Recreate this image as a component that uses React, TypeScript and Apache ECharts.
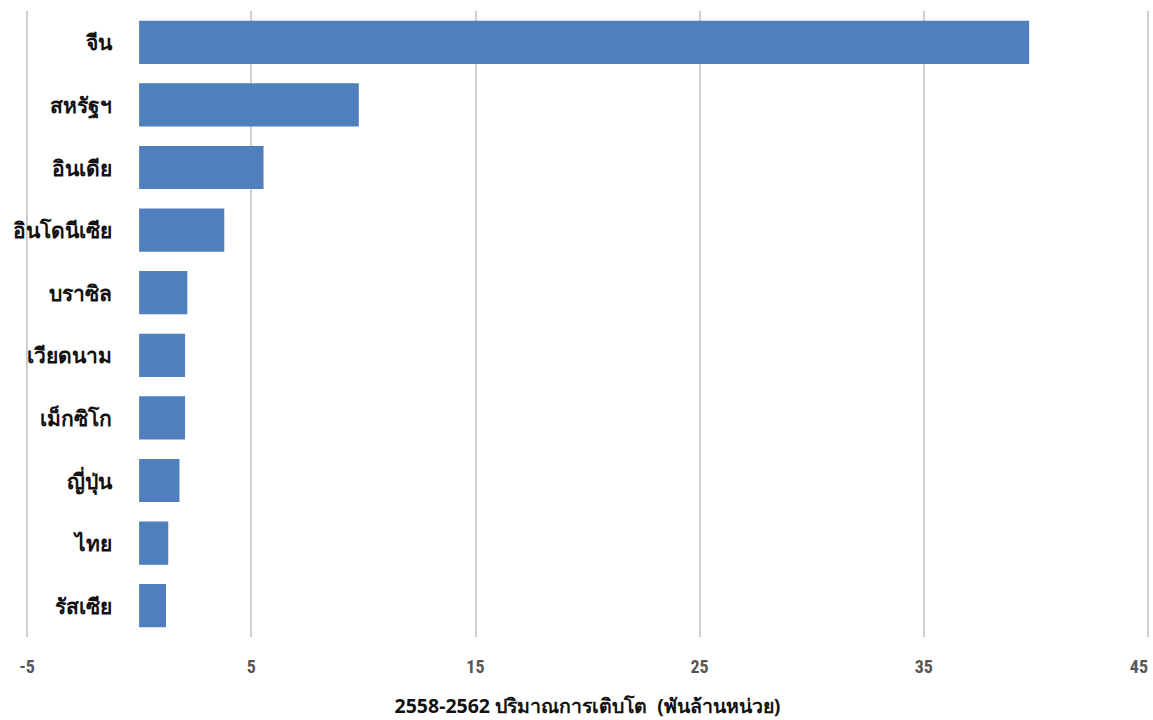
import React, { useEffect, useRef } from "react";
import * as echarts from "echarts";

const categories = ["จีน", "สหรัฐฯ", "อินเดีย", "อินโดนีเซีย", "บราซิล", "เวียดนาม", "เม็กซิโก", "ญี่ปุ่น", "ไทย", "รัสเซีย"];
const values = [39.7, 9.8, 5.55, 3.8, 2.15, 2.05, 2.05, 1.8, 1.3, 1.2];
const xMin = -5;
const xMax = 45;
const xInterval = 10;
const xAxisName = "2558-2562 ปริมาณการเติบโต  (พันล้านหน่วย)";

const GRID_LEFT = 27;
const GRID_RIGHT = 5;
const CHART_W = 1153;

export default function App() {
  const ref = useRef<HTMLDivElement>(null);
  useEffect(() => {
    if (!ref.current) return;
    const chart = echarts.init(ref.current, undefined, { renderer: "svg" });
    const plotW = CHART_W - GRID_LEFT - GRID_RIGHT;
    // distance from grid left edge to the value 0
    const zeroOffset = ((0 - xMin) / (xMax - xMin)) * plotW;
    chart.setOption({
      animation: false,
      backgroundColor: "#ffffff",
      grid: { left: GRID_LEFT, right: GRID_RIGHT, top: 11, bottom: 83, containLabel: false, outerBoundsMode: "none" },
      xAxis: {
        type: "value",
        min: xMin,
        max: xMax,
        interval: xInterval,
        axisLine: { show: false },
        axisTick: { show: false },
        splitLine: { show: true, lineStyle: { color: "#cfcfcf", width: 2 } },
        axisLabel: {
          margin: 20,
          color: "#555555",
          fontSize: 18,
          fontWeight: "bold",
          alignMaxLabel: "right",
          fontFamily: "'Liberation Sans Narrow', 'Roboto Condensed', Roboto, sans-serif",
        },
        name: xAxisName,
        nameLocation: "middle",
        nameGap: 58,
        nameTextStyle: {
          color: "#111111",
          fontSize: 19.5,
          fontWeight: "bold",
          fontFamily: "'Noto Sans', sans-serif",
        },
      },
      yAxis: {
        type: "category",
        data: categories,
        inverse: true,
        offset: -zeroOffset,
        axisLine: { show: false, onZero: false },
        axisTick: { show: false },
        splitLine: { show: false },
        axisLabel: {
          margin: 27,
          color: "#111111",
          fontSize: 21,
          fontWeight: "bold",
          fontFamily: "'Noto Sans', sans-serif",
        },
      },
      series: [
        {
          type: "bar",
          data: values,
          barCategoryGap: "31%",
          itemStyle: { color: "#4f7fbc" },
        },
      ],
    });
    return () => chart.dispose();
  }, []);
  return <div ref={ref} style={{ width: 1153, height: 720, position: "absolute", left: 0, top: 0 }} />;
}
